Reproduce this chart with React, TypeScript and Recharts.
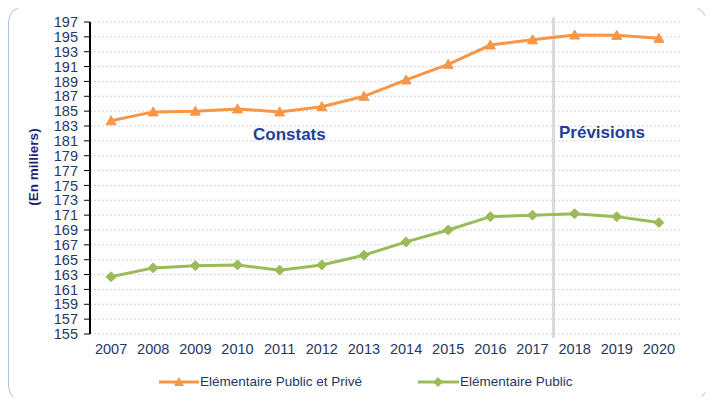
import React from 'react';
import { LineChart, Line, XAxis, YAxis, CartesianGrid, ReferenceLine } from 'recharts';

const years = ['2007','2008','2009','2010','2011','2012','2013','2014','2015','2016','2017','2018','2019','2020'];
const publicPrive = [183.7,184.9,185.0,185.3,184.9,185.6,187.0,189.2,191.3,193.9,194.6,195.25,195.2,194.8];
const publicOnly = [162.7,163.9,164.2,164.3,163.6,164.3,165.6,167.4,169.0,170.8,171.0,171.2,170.8,170.0];
const yTicks = [155,157,159,161,163,165,167,169,171,173,175,177,179,181,183,185,187,189,191,193,195,197];
const boundaryTicks = [0,1,2,3,4,5,6,7,8,9,10,11,12,13,14];
const forecastStart = 11;

const ORANGE = '#f79646';
const GREEN = '#9bbb59';
const TXT = '#1f3864';
const FONT = '"Liberation Sans", Arial, sans-serif';

const data = years.map((y, i) => ({ year: y, pp: publicPrive[i], pub: publicOnly[i] }));

const Triangle = (props: any) => {
  const { cx, cy } = props;
  if (cx == null || cy == null) return null;
  return <polygon points={`${cx},${cy - 5} ${cx - 5},${cy + 4} ${cx + 5},${cy + 4}`} fill={ORANGE} stroke={ORANGE} />;
};
const Diamond = (props: any) => {
  const { cx, cy } = props;
  if (cx == null || cy == null) return null;
  return <polygon points={`${cx},${cy - 5} ${cx + 5},${cy} ${cx},${cy + 5} ${cx - 5},${cy}`} fill={GREEN} stroke={GREEN} />;
};

const LegendBlock = () => (
  <div style={{ position: 'absolute', left: 0, top: 374, width: 713, height: 20, fontFamily: FONT, fontSize: 13.5, color: TXT }}>
    <div style={{ position: 'absolute', left: 159, top: 0, display: 'flex', alignItems: 'center' }}>
      <svg width={40} height={14}>
        <line x1={0} y1={7} x2={40} y2={7} stroke={ORANGE} strokeWidth={3} />
        <polygon points="20,2 15,11 25,11" fill={ORANGE} />
      </svg>
      <span style={{ marginLeft: 1 }}>Elémentaire Public et Privé</span>
    </div>
    <div style={{ position: 'absolute', left: 418, top: 0, display: 'flex', alignItems: 'center' }}>
      <svg width={41} height={14}>
        <line x1={0} y1={7} x2={41} y2={7} stroke={GREEN} strokeWidth={3} />
        <polygon points="20,2 25,7 20,12 15,7" fill={GREEN} />
      </svg>
      <span style={{ marginLeft: 1 }}>Elémentaire Public</span>
    </div>
  </div>
);

export default function App() {
  return (
    <div style={{ position: 'relative', width: 713, height: 405, margin: -8, overflow: 'hidden', background: '#fff', fontFamily: FONT }}>
      <div style={{ position: 'absolute', left: 8, top: 6, width: 697, height: 394, border: '1.5px solid #a9c1e3', borderRadius: 16 }} />
      <LineChart width={713} height={405} data={data} margin={{ top: 22, right: 33, bottom: 41, left: 40 }} style={{ position: 'absolute', left: 0, top: 0 }}>
        <CartesianGrid vertical={false} stroke="#d4d4d4" strokeDasharray="2 2" />
        <XAxis xAxisId="n" type="number" dataKey={() => 0} domain={[0, 14]} ticks={boundaryTicks} height={0}
          axisLine={{ stroke: '#8c8c8c', strokeWidth: 1.5 }} tickLine={{ stroke: '#8c8c8c' }} tickSize={5}
          tickFormatter={() => ''} allowDataOverflow />
        <XAxis dataKey="year" scale="band" axisLine={false} tickLine={false} tick={{ fill: TXT, fontSize: 14.5 }} tickSize={6} tickMargin={4} interval={0} height={30} />
        <YAxis domain={[155, 197]} ticks={yTicks} interval={0} width={50}
          axisLine={{ stroke: '#000', strokeWidth: 2 }} tickLine={{ stroke: '#000' }} tickSize={6} tickMargin={6}
          tick={{ fill: TXT, fontSize: 14.5 }} />
        <ReferenceLine xAxisId="n" segment={[{ x: forecastStart, y: 197.6 }, { x: forecastStart, y: 154.5 }]} ifOverflow="visible" stroke="#d9d9d9" strokeWidth={3} />
        <Line dataKey="pp" stroke={ORANGE} strokeWidth={3} dot={<Triangle />} isAnimationActive={false} name="Elémentaire Public et Privé" />
        <Line dataKey="pub" stroke={GREEN} strokeWidth={3} dot={<Diamond />} isAnimationActive={false} name="Elémentaire Public" />
      </LineChart>
      <LegendBlock />
      <div style={{ position: 'absolute', left: 253, top: 125, fontSize: 17, fontWeight: 'bold', color: '#1f3f98' }}>Constats</div>
      <div style={{ position: 'absolute', left: 559, top: 123, fontSize: 17, fontWeight: 'bold', color: '#1f3f98' }}>Prévisions</div>
      <div style={{ position: 'absolute', left: 33, top: 167, transform: 'translate(-50%, -50%) rotate(-90deg)', fontSize: 13.5, fontWeight: 'bold', color: '#1f1f78', whiteSpace: 'nowrap' }}>(En milliers)</div>
    </div>
  );
}
